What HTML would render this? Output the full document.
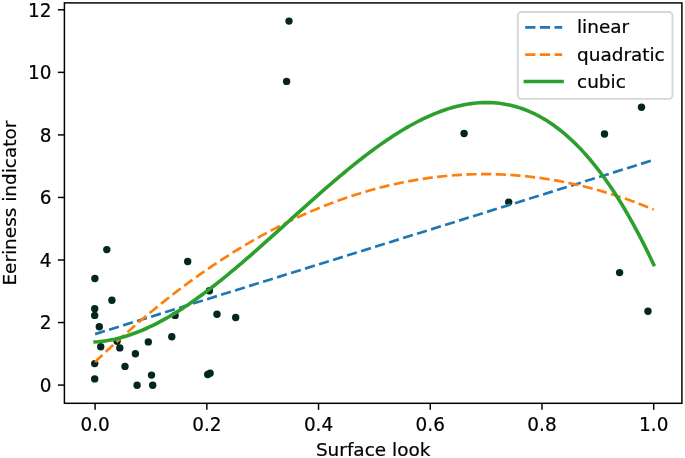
<!DOCTYPE html>
<html><head><meta charset="utf-8"><title>Polynomial fits</title>
<style>
html,body{margin:0;padding:0;background:#fff;}
svg{display:block;}
text{font-family:"DejaVu Sans","Liberation Sans",sans-serif;font-size:18.444px;fill:#000;stroke:#000;stroke-width:0.2px;}
</style></head><body>
<svg width="685" height="458" viewBox="0 0 685 458">
<rect x="0" y="0" width="685" height="458" fill="#fff"/>
<clipPath id="ax"><rect x="64.4" y="2.9" width="617.5" height="400.40000000000003"/></clipPath>
<g clip-path="url(#ax)">
<g fill="#03261e">
<circle cx="106.8" cy="249.6" r="3.7"/>
<circle cx="187.7" cy="261.5" r="3.7"/>
<circle cx="94.9" cy="278.5" r="3.7"/>
<circle cx="111.9" cy="300.3" r="3.7"/>
<circle cx="94.7" cy="308.7" r="3.7"/>
<circle cx="94.7" cy="315.4" r="3.7"/>
<circle cx="99.3" cy="326.8" r="3.7"/>
<circle cx="175.1" cy="315.4" r="3.7"/>
<circle cx="171.8" cy="336.8" r="3.7"/>
<circle cx="148.3" cy="341.9" r="3.7"/>
<circle cx="117.1" cy="341.2" r="3.7"/>
<circle cx="100.7" cy="346.8" r="3.7"/>
<circle cx="119.8" cy="347.9" r="3.7"/>
<circle cx="135.4" cy="353.7" r="3.7"/>
<circle cx="94.7" cy="363.6" r="3.7"/>
<circle cx="125.0" cy="366.4" r="3.7"/>
<circle cx="151.5" cy="375.1" r="3.7"/>
<circle cx="94.7" cy="378.9" r="3.7"/>
<circle cx="137.1" cy="385.2" r="3.7"/>
<circle cx="152.7" cy="385.2" r="3.7"/>
<circle cx="209.4" cy="290.7" r="3.7"/>
<circle cx="217.0" cy="314.3" r="3.7"/>
<circle cx="235.7" cy="317.5" r="3.7"/>
<circle cx="207.7" cy="374.5" r="3.7"/>
<circle cx="210.1" cy="373.3" r="3.7"/>
<circle cx="289.0" cy="21.1" r="3.7"/>
<circle cx="286.6" cy="81.4" r="3.7"/>
<circle cx="464.1" cy="133.5" r="3.7"/>
<circle cx="508.7" cy="202.1" r="3.7"/>
<circle cx="641.5" cy="107.3" r="3.7"/>
<circle cx="604.5" cy="134.0" r="3.7"/>
<circle cx="619.6" cy="272.6" r="3.7"/>
<circle cx="648.0" cy="311.2" r="3.7"/>
</g>
<path d="M95.10,334.12 L653.70,159.92" fill="none" stroke="#1f77b4" stroke-width="2.674" stroke-dasharray="10.236 4.427"/>
<path d="M95.10,362.00 L97.91,359.30 L100.71,356.62 L103.52,353.96 L106.33,351.32 L109.14,348.70 L111.94,346.10 L114.75,343.52 L117.56,340.96 L120.36,338.41 L123.17,335.89 L125.98,333.39 L128.78,330.90 L131.59,328.44 L134.40,325.99 L137.21,323.57 L140.01,321.16 L142.82,318.78 L145.63,316.41 L148.43,314.06 L151.24,311.73 L154.05,309.43 L156.85,307.14 L159.66,304.87 L162.47,302.62 L165.28,300.39 L168.08,298.18 L170.89,295.99 L173.70,293.81 L176.50,291.66 L179.31,289.53 L182.12,287.42 L184.93,285.32 L187.73,283.25 L190.54,281.19 L193.35,279.16 L196.15,277.14 L198.96,275.15 L201.77,273.17 L204.57,271.21 L207.38,269.28 L210.19,267.36 L213.00,265.46 L215.80,263.58 L218.61,261.72 L221.42,259.88 L224.22,258.06 L227.03,256.26 L229.84,254.48 L232.64,252.72 L235.45,250.98 L238.26,249.26 L241.07,247.55 L243.87,245.87 L246.68,244.21 L249.49,242.56 L252.29,240.94 L255.10,239.33 L257.91,237.74 L260.72,236.18 L263.52,234.63 L266.33,233.10 L269.14,231.60 L271.94,230.11 L274.75,228.64 L277.56,227.19 L280.36,225.76 L283.17,224.35 L285.98,222.96 L288.79,221.59 L291.59,220.24 L294.40,218.91 L297.21,217.59 L300.01,216.30 L302.82,215.03 L305.63,213.77 L308.43,212.54 L311.24,211.32 L314.05,210.13 L316.86,208.95 L319.66,207.80 L322.47,206.66 L325.28,205.54 L328.08,204.45 L330.89,203.37 L333.70,202.31 L336.51,201.27 L339.31,200.25 L342.12,199.25 L344.93,198.27 L347.73,197.31 L350.54,196.37 L353.35,195.44 L356.15,194.54 L358.96,193.66 L361.77,192.80 L364.58,191.95 L367.38,191.13 L370.19,190.32 L373.00,189.54 L375.80,188.77 L378.61,188.03 L381.42,187.30 L384.22,186.59 L387.03,185.90 L389.84,185.24 L392.65,184.59 L395.45,183.96 L398.26,183.35 L401.07,182.76 L403.87,182.19 L406.68,181.64 L409.49,181.11 L412.29,180.60 L415.10,180.10 L417.91,179.63 L420.72,179.18 L423.52,178.74 L426.33,178.33 L429.14,177.93 L431.94,177.56 L434.75,177.20 L437.56,176.87 L440.37,176.55 L443.17,176.25 L445.98,175.98 L448.79,175.72 L451.59,175.48 L454.40,175.26 L457.21,175.06 L460.01,174.88 L462.82,174.72 L465.63,174.58 L468.44,174.46 L471.24,174.36 L474.05,174.27 L476.86,174.21 L479.66,174.17 L482.47,174.14 L485.28,174.14 L488.08,174.16 L490.89,174.19 L493.70,174.24 L496.51,174.32 L499.31,174.41 L502.12,174.53 L504.93,174.66 L507.73,174.81 L510.54,174.98 L513.35,175.17 L516.16,175.38 L518.96,175.61 L521.77,175.86 L524.58,176.13 L527.38,176.42 L530.19,176.73 L533.00,177.06 L535.80,177.40 L538.61,177.77 L541.42,178.16 L544.23,178.56 L547.03,178.99 L549.84,179.43 L552.65,179.90 L555.45,180.38 L558.26,180.89 L561.07,181.41 L563.87,181.95 L566.68,182.51 L569.49,183.09 L572.30,183.70 L575.10,184.32 L577.91,184.96 L580.72,185.62 L583.52,186.30 L586.33,186.99 L589.14,187.71 L591.95,188.45 L594.75,189.21 L597.56,189.98 L600.37,190.78 L603.17,191.60 L605.98,192.43 L608.79,193.29 L611.59,194.16 L614.40,195.06 L617.21,195.97 L620.02,196.90 L622.82,197.86 L625.63,198.83 L628.44,199.82 L631.24,200.83 L634.05,201.86 L636.86,202.91 L639.66,203.98 L642.47,205.07 L645.28,206.18 L648.09,207.31 L650.89,208.46 L653.70,209.62" fill="none" stroke="#ff7f0e" stroke-width="2.674" stroke-dasharray="10.236 4.427"/>
<path d="M95.10,341.94 L97.91,341.74 L100.71,341.47 L103.52,341.14 L106.33,340.74 L109.14,340.27 L111.94,339.74 L114.75,339.15 L117.56,338.49 L120.36,337.78 L123.17,337.00 L125.98,336.16 L128.78,335.27 L131.59,334.32 L134.40,333.32 L137.21,332.25 L140.01,331.14 L142.82,329.97 L145.63,328.75 L148.43,327.48 L151.24,326.16 L154.05,324.79 L156.85,323.37 L159.66,321.91 L162.47,320.39 L165.28,318.84 L168.08,317.24 L170.89,315.60 L173.70,313.91 L176.50,312.19 L179.31,310.42 L182.12,308.62 L184.93,306.78 L187.73,304.90 L190.54,302.98 L193.35,301.03 L196.15,299.05 L198.96,297.03 L201.77,294.99 L204.57,292.91 L207.38,290.80 L210.19,288.66 L213.00,286.50 L215.80,284.31 L218.61,282.09 L221.42,279.85 L224.22,277.58 L227.03,275.29 L229.84,272.98 L232.64,270.65 L235.45,268.30 L238.26,265.93 L241.07,263.54 L243.87,261.14 L246.68,258.72 L249.49,256.28 L252.29,253.84 L255.10,251.38 L257.91,248.90 L260.72,246.42 L263.52,243.93 L266.33,241.43 L269.14,238.92 L271.94,236.40 L274.75,233.88 L277.56,231.36 L280.36,228.83 L283.17,226.30 L285.98,223.76 L288.79,221.23 L291.59,218.70 L294.40,216.16 L297.21,213.63 L300.01,211.11 L302.82,208.59 L305.63,206.07 L308.43,203.56 L311.24,201.06 L314.05,198.57 L316.86,196.08 L319.66,193.61 L322.47,191.15 L325.28,188.70 L328.08,186.26 L330.89,183.84 L333.70,181.43 L336.51,179.05 L339.31,176.67 L342.12,174.32 L344.93,171.99 L347.73,169.67 L350.54,167.38 L353.35,165.12 L356.15,162.87 L358.96,160.65 L361.77,158.46 L364.58,156.29 L367.38,154.15 L370.19,152.04 L373.00,149.95 L375.80,147.90 L378.61,145.88 L381.42,143.90 L384.22,141.94 L387.03,140.03 L389.84,138.14 L392.65,136.30 L395.45,134.49 L398.26,132.72 L401.07,130.99 L403.87,129.30 L406.68,127.65 L409.49,126.05 L412.29,124.49 L415.10,122.97 L417.91,121.50 L420.72,120.08 L423.52,118.71 L426.33,117.38 L429.14,116.10 L431.94,114.88 L434.75,113.70 L437.56,112.58 L440.37,111.51 L443.17,110.50 L445.98,109.55 L448.79,108.65 L451.59,107.81 L454.40,107.02 L457.21,106.30 L460.01,105.64 L462.82,105.04 L465.63,104.50 L468.44,104.03 L471.24,103.62 L474.05,103.28 L476.86,103.00 L479.66,102.80 L482.47,102.66 L485.28,102.59 L488.08,102.59 L490.89,102.67 L493.70,102.82 L496.51,103.04 L499.31,103.33 L502.12,103.71 L504.93,104.16 L507.73,104.69 L510.54,105.29 L513.35,105.98 L516.16,106.75 L518.96,107.60 L521.77,108.53 L524.58,109.55 L527.38,110.65 L530.19,111.84 L533.00,113.12 L535.80,114.48 L538.61,115.94 L541.42,117.48 L544.23,119.11 L547.03,120.84 L549.84,122.66 L552.65,124.58 L555.45,126.58 L558.26,128.69 L561.07,130.89 L563.87,133.19 L566.68,135.59 L569.49,138.09 L572.30,140.70 L575.10,143.40 L577.91,146.21 L580.72,149.12 L583.52,152.14 L586.33,155.26 L589.14,158.49 L591.95,161.83 L594.75,165.28 L597.56,168.84 L600.37,172.50 L603.17,176.29 L605.98,180.18 L608.79,184.19 L611.59,188.32 L614.40,192.56 L617.21,196.92 L620.02,201.39 L622.82,205.99 L625.63,210.71 L628.44,215.55 L631.24,220.51 L634.05,225.59 L636.86,230.80 L639.66,236.13 L642.47,241.59 L645.28,247.18 L648.09,252.90 L650.89,258.74 L653.70,264.72" fill="none" stroke="#2ca02c" stroke-width="3.6" stroke-linecap="square" stroke-linejoin="round"/>
</g>
<rect x="64.4" y="2.9" width="617.5" height="400.40000000000003" fill="none" stroke="#000" stroke-width="1.476"/>
<g stroke="#000" stroke-width="1.476">
<line x1="95.10" y1="403.3" x2="95.10" y2="409.8"/>
<line x1="206.82" y1="403.3" x2="206.82" y2="409.8"/>
<line x1="318.54" y1="403.3" x2="318.54" y2="409.8"/>
<line x1="430.26" y1="403.3" x2="430.26" y2="409.8"/>
<line x1="541.98" y1="403.3" x2="541.98" y2="409.8"/>
<line x1="653.70" y1="403.3" x2="653.70" y2="409.8"/>
<line x1="64.4" y1="385.10" x2="57.900000000000006" y2="385.10"/>
<line x1="64.4" y1="322.55" x2="57.900000000000006" y2="322.55"/>
<line x1="64.4" y1="260.00" x2="57.900000000000006" y2="260.00"/>
<line x1="64.4" y1="197.45" x2="57.900000000000006" y2="197.45"/>
<line x1="64.4" y1="134.90" x2="57.900000000000006" y2="134.90"/>
<line x1="64.4" y1="72.35" x2="57.900000000000006" y2="72.35"/>
<line x1="64.4" y1="9.80" x2="57.900000000000006" y2="9.80"/>
</g>
<g text-anchor="middle">
<text transform="translate(95.10 431.2) scale(1 1.08)">0.0</text>
<text transform="translate(206.82 431.2) scale(1 1.08)">0.2</text>
<text transform="translate(318.54 431.2) scale(1 1.08)">0.4</text>
<text transform="translate(430.26 431.2) scale(1 1.08)">0.6</text>
<text transform="translate(541.98 431.2) scale(1 1.08)">0.8</text>
<text transform="translate(653.70 431.2) scale(1 1.08)">1.0</text>
</g><g text-anchor="end">
<text transform="translate(51.4 392) scale(1 1.07)">0</text>
<text transform="translate(51.4 329) scale(1 1.07)">2</text>
<text transform="translate(51.4 267) scale(1 1.07)">4</text>
<text transform="translate(51.4 204) scale(1 1.07)">6</text>
<text transform="translate(51.4 142) scale(1 1.07)">8</text>
<text transform="translate(51.4 79) scale(1 1.07)">10</text>
<text transform="translate(51.4 17) scale(1 1.07)">12</text>
</g>
<text x="373.15" y="455.7" text-anchor="middle">Surface look</text>
<text transform="translate(16.2 203.10) rotate(-90)" text-anchor="middle">Eeriness indicator</text>
<rect x="517.8" y="12.0" width="154.7" height="86.9" rx="3.7" ry="3.7" fill="#fff" fill-opacity="0.8" stroke="#cccccc" stroke-opacity="0.8" stroke-width="1.85"/>
<line x1="525.2" y1="27.3" x2="562.2" y2="27.3" stroke="#1f77b4" stroke-width="2.674" stroke-dasharray="10.236 4.427"/>
<line x1="525.2" y1="54.7" x2="562.2" y2="54.7" stroke="#ff7f0e" stroke-width="2.674" stroke-dasharray="10.236 4.427"/>
<line x1="525.2" y1="81.5" x2="562.2" y2="81.5" stroke="#2ca02c" stroke-width="3.3" stroke-linecap="square"/>
<text x="577.0" y="33.1">linear</text>
<text x="577.0" y="60.6">quadratic</text>
<text x="577.0" y="87.6">cubic</text>
</svg></body></html>
